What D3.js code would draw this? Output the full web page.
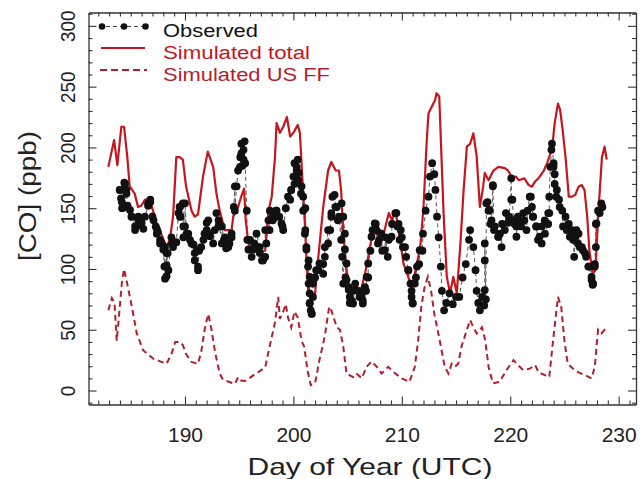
<!DOCTYPE html>
<html>
<head>
<meta charset="utf-8">
<script src="https://cdn.jsdelivr.net/npm/d3@7"></script>
<style>
  html, body { margin: 0; padding: 0; background: #fff; }
  svg { display: block; font-family: "Liberation Sans", Arial, sans-serif; }
</style>
</head>
<body>
<svg id="chart" width="640" height="479"></svg>
<script>
// ---- data: [day of year, CO ppb] ----
const observed = [
  [183.98,165],[184.0,165],[184.1,158],[184.17,155],[184.2,150],[184.4,171],[184.47,170],
  [184.47,151],[184.6,165],[184.6,162],[184.7,152],[184.93,148.5],[185.06,143],[185.1,143],
  [185.4,135],[185.4,132],[185.7,140],[185.7,143],[185.85,136],[186.0,138],[186.16,133],
  [186.3,143],[186.6,152],[186.6,154],[186.8,155],[186.8,157],[187.0,143],[187.1,140],
  [187.3,135],[187.4,129],[187.4,133],[187.5,130.6],[187.7,121],[187.7,124],[187.85,121],
  [188.0,116],[188.1,102],[188.16,118],[188.16,92],[188.3,94],[188.3,113],[188.3,103],
  [188.4,113],[188.47,99],[188.75,126],[188.8,121],[188.9,118],[189.2,122],[189.4,146],
  [189.5,151],[189.54,151],[189.54,143],[189.6,143],[189.8,154],[189.85,135],[189.85,126],
  [190.0,135],[190.0,154],[190.15,129],[190.3,129],[190.46,124],[190.6,121],[190.8,120],
  [190.9,113],[190.9,107],[191.1,115.5],[191.2,99],[191.2,102],[191.3,115],[191.5,118],
  [191.7,124],[191.8,129],[192.0,138],[192.0,132],[192.15,140],[192.3,129],[192.3,127],
  [192.6,121],[192.75,132],[192.9,146],[193.1,135],[193.1,140],[193.4,121],[193.4,135],
  [193.6,124],[193.7,126],[193.8,117],[194.0,118],[194.1,121],[194.3,126],[194.3,129],
  [194.5,151],[194.6,168],[194.6,148],[194.76,168],[194.9,181],[195.07,184],[195.1,192],
  [195.2,203],[195.2,195],[195.3,185],[195.4,198],[195.4,190],[195.5,205],[195.55,187],
  [195.7,148],[195.75,124],[195.85,116],[196.0,124],[196.15,110],[196.3,116],[196.4,121],
  [196.6,129],[196.9,118],[196.9,113],[197.1,107],[197.2,107],[197.4,110],[197.4,132],
  [197.5,121],[197.7,140],[197.8,132],[197.83,148],[198.1,140],[198.1,143],[198.4,148],
  [198.45,148],[198.6,143],[198.7,143],[198.9,137.5],[199.0,135],[199.06,132],[199.3,150],
  [199.5,159.5],[199.7,157],[199.8,165],[199.8,165],[200.0,176],[200.1,187],[200.1,170],
  [200.2,176],[200.3,181],[200.3,184],[200.4,190],[200.45,173],[200.5,179],[200.7,162],
  [200.75,168],[200.9,148],[200.9,159.5],[201.06,129],[201.1,132],[201.1,150],[201.2,118],
  [201.2,116],[201.35,102],[201.4,88],[201.4,107],[201.5,72],[201.5,93.5],[201.5,80],
  [201.5,71.6],[201.6,66],[201.67,63.4],[201.7,63],[201.8,77],[201.8,88],[202.0,93],
  [202.1,99],[202.3,99],[202.4,104.5],[202.75,104],[202.75,96],[202.9,118],[202.9,110],
  [203.2,132],[203.2,121],[203.4,132],[203.5,146],[203.5,143],[203.6,159.5],[203.8,161],
  [203.9,151],[204.0,151],[204.1,140],[204.2,143],[204.4,124],[204.45,154],[204.5,110],
  [204.6,88],[204.6,143],[204.75,129],[204.75,116],[204.8,93],[204.9,104.5],[204.9,91],
  [205.1,85],[205.1,83],[205.2,72],[205.2,77],[205.4,74],[205.5,82],[205.5,71.6],
  [205.7,88],[205.8,82.6],[206.0,82],[206.1,77],[206.3,77],[206.4,74],[206.4,71.6],
  [206.6,82],[206.6,85],[206.7,82],[206.75,93.5],[206.9,93],[206.9,104.5],[207.1,115],
  [207.2,126.5],[207.3,132],[207.5,137.5],[207.6,137],[207.66,132],[207.8,121],[207.9,124],
  [208.1,129],[208.2,115],[208.43,115.5],[208.5,126],[208.7,110],[208.8,124],[209.05,126.5],
  [209.1,137],[209.4,146],[209.5,146],[209.6,135],[209.7,137],[209.8,124],[209.9,132],
  [210.0,126],[210.1,118],[210.3,118],[210.4,110],[210.6,99],[210.6,99],[210.8,88],
  [210.9,82],[210.9,77],[211.0,72],[211.0,71.6],[211.2,88],[211.3,93],[211.4,102],
  [211.6,104],[211.65,115.5],[211.9,115],[211.95,129],[212.2,148],[212.46,159.5],[212.6,176],
  [212.8,187],[213.0,178],[213.1,165],[213.25,143],[213.4,126],[213.6,102],[213.7,82],
  [213.9,66],[214.1,72],[214.4,80],[214.7,71],[215.0,77],[215.3,77],[215.6,93],
  [215.9,104],[216.2,124],[216.3,132],[216.6,118],[216.8,99],[216.9,82],[217.05,72],
  [217.2,66],[217.4,77],[217.6,70],[217.65,82.6],[217.65,107],[217.65,121],[217.75,75],
  [217.8,154],[217.9,155],[218.0,148],[218.1,148.5],[218.2,137],[218.27,140],[218.4,169],
  [218.4,168],[218.5,132],[218.57,135],[218.9,126.5],[218.9,126.5],[219.05,129],[219.2,118],
  [219.25,137],[219.5,132],[219.6,146],[219.8,138],[219.9,143],[220.1,174.6],[220.1,157],
  [220.2,157],[220.3,140],[220.4,137],[220.57,135],[220.57,126.5],[220.7,143],[220.9,138],
  [221.0,135],[221.2,146],[221.3,140],[221.5,132],[221.6,148],[221.8,159.5],[221.9,159.5],
  [222.0,151],[222.1,143],[222.1,143],[222.4,135],[222.4,135],[222.56,124],[222.7,126.5],
  [222.9,121],[222.9,135],[223.18,140],[223.2,129],[223.5,137],[223.5,146],[223.6,146],
  [223.6,159.5],[223.7,184],[223.8,198],[223.85,203],[224.0,187],[224.0,184],[224.1,178],
  [224.1,170],[224.25,159.5],[224.3,165],[224.5,157],[224.56,151],[224.8,148],[224.87,135],
  [225.1,143],[225.2,132],[225.4,137],[225.5,126.5],[225.7,132],[225.8,124],[225.9,110],
  [226.0,126.5],[226.1,132],[226.25,121],[226.3,129],[226.4,118],[226.6,118],[226.7,115.5],
  [226.9,113],[227.0,110],[227.2,102],[227.3,102],[227.5,91],[227.5,93.5],[227.6,87],
  [227.65,88],[227.8,104],[227.8,102],[227.9,137],[227.9,118],[227.95,137.5],[228.1,148],
  [228.25,146],[228.4,154],[228.5,151]
];

const simTotal = [
  [182.93,184],[183.46,206],[183.76,185.5],[184.13,217],[184.38,217],[184.68,192],
  [184.9,168],[185.36,162],[185.67,151],[185.97,152],[186.3,157],[186.75,157],
  [187.05,148],[187.36,137.5],[187.8,129],[188.28,118],[188.6,124],[188.9,143],
  [189.2,192],[189.5,192],[189.8,190],[190.1,168],[190.6,148],[190.9,143],
  [191.2,145],[191.66,176],[192.1,196.5],[192.6,184],[192.9,162],[193.2,148],
  [193.66,132],[194.3,132],[194.45,143],[194.9,151],[195.2,160],[195.45,166],
  [195.6,140],[195.85,121],[196.15,115.5],[196.6,118],[196.9,113],[197.4,115.5],
  [197.7,148],[198.0,159.5],[198.3,192],[198.45,220],[198.76,212],[199.06,217],
  [199.4,225],[199.7,209],[200.0,212],[200.4,218.5],[200.6,212],[200.8,179],
  [201.06,137.5],[201.2,110],[201.36,82.6],[201.7,74],[201.97,77],[202.3,110],
  [202.75,151],[203.2,181],[203.5,188],[203.9,181],[204.2,181],[204.4,165],
  [204.6,130],[204.9,100],[205.2,77],[205.6,85],[206.0,77],[206.3,85],
  [206.6,96],[206.8,104.5],[207.05,118],[207.4,132],[207.7,128],[208.0,132],
  [208.3,128],[208.8,146],[209.1,140],[209.4,148],[209.7,132],[210.15,104.5],
  [210.6,93.5],[210.9,82.6],[211.2,96],[211.7,118],[212.0,151],[212.3,206],
  [212.46,228],[212.76,233.5],[213.07,239],[213.2,244.6],[213.45,242],[213.6,206],
  [213.85,146],[214.15,93.5],[214.45,80],[214.75,93.5],[215.07,80],[215.4,120],
  [215.7,165],[216.0,200.6],[216.3,203],[216.6,211.6],[216.9,193],[217.2,151],
  [217.5,167.7],[217.65,179],[218.0,173],[218.45,181],[218.9,184],[219.5,183],
  [219.8,181],[220.2,174.6],[220.5,176],[220.8,173],[221.3,174.6],[221.7,169],
  [222.0,167.7],[222.3,172],[222.6,174.6],[223.1,181],[223.4,187],[223.7,195],
  [223.85,198],[224.1,220],[224.4,236],[224.6,231],[224.84,214],[225.1,192],
  [225.4,159.5],[225.7,159.5],[226.0,161],[226.3,167.7],[226.6,169],[226.85,165],
  [227.1,143],[227.3,115.5],[227.6,96],[227.86,99],[228.16,151],[228.46,192],
  [228.7,200.6],[228.9,190]
];

const simUSFF = [
  [182.93,66],[183.25,76],[183.5,72],[183.7,41],[183.85,55],[184.17,88],
  [184.38,100],[184.6,91],[185.1,69],[185.55,47],[186.15,33],[187.1,26],
  [187.7,24],[188.3,22],[188.75,30],[189.1,40],[189.5,40],[189.8,37.5],
  [190.1,30],[190.6,23.5],[191.2,22],[191.5,32],[191.85,52],[192.15,63],
  [192.45,50],[192.8,30.5],[193.2,14],[193.5,9],[194.1,7],[194.6,5.5],
  [194.9,11],[195.2,8],[195.6,8],[196.3,12.5],[196.9,16],[197.4,19],
  [197.7,32],[198.0,44],[198.3,56],[198.6,77],[198.75,59],[199.1,66],
  [199.3,71],[199.5,60],[199.8,52],[200.1,65],[200.4,60],[200.75,41],
  [201.0,36],[201.3,16.5],[201.6,4.4],[202.0,6],[202.4,25],[202.9,45],
  [203.3,69],[203.5,66],[204.0,52],[204.3,50],[204.6,36],[204.9,14],
  [205.5,11],[205.8,14],[206.3,10],[206.75,19.5],[207.2,24],[207.7,19.5],
  [208.15,14],[208.75,19.5],[209.4,14],[210.0,10],[210.7,7],[211.2,19.5],
  [211.5,41],[211.8,69],[212.1,85],[212.4,93.5],[212.7,82],[213.0,63],
  [213.5,41],[213.96,19.5],[214.3,14],[214.6,22],[214.9,19.5],[215.2,22],
  [215.5,36],[216.0,50],[216.3,58],[216.6,52],[216.9,47],[217.4,52],
  [217.7,41],[218.0,19.5],[218.4,6],[219.0,7],[219.65,16.7],[220.3,25],
  [220.7,21],[221.2,16.7],[221.8,18],[222.3,21],[222.6,15],[223.2,12.6],
  [223.6,11],[223.95,41],[224.4,77],[224.7,69],[225.0,41],[225.3,22],
  [225.8,18],[226.3,15],[226.9,12.6],[227.5,10],[227.8,19.5],[228.1,50],
  [228.4,47],[228.7,50],[228.9,51]
];

const xTicks = [190, 200, 210, 220, 230];
const yTicks = [0, 50, 100, 150, 200, 250, 300];
const legendItems = ["Observed", "Simulated total", "Simulated US FF"];

// ---- layout ----
const RED = "#c4161c";
const RED_FF = "#b41e2c";
const FONT = '"Liberation Sans", Arial, sans-serif';

const svg = d3.select("#chart");
const plot = { left: 88.5, right: 636, top: 12.5, bottom: 404.5 };

const x = d3.scaleLinear().domain([181.1, 231.6]).range([plot.left, plot.right]);
const y = d3.scaleLinear().domain([-11.5, 311]).range([plot.bottom, plot.top]);

const minorX = d3.range(182, 232).filter(d => d % 10 !== 0);
const minorY = d3.range(-10, 311, 10).filter(d => d % 50 !== 0);

svg.append("defs").append("clipPath").attr("id", "clip")
    .append("rect")
    .attr("x", plot.left).attr("y", plot.top)
    .attr("width", plot.right - plot.left).attr("height", plot.bottom - plot.top);

// ---- axes: box with inward ticks on all four sides ----
function styleAxis(g) {
    g.select(".domain").attr("stroke", "#333").attr("stroke-width", 1.3);
    g.selectAll(".tick line").attr("stroke", "#333").attr("stroke-width", 1.1);
}

const bottomG = svg.append("g")
    .attr("transform", `translate(0,${plot.bottom})`)
    .call(d3.axisBottom(x).tickValues(xTicks).tickSize(-8).tickSizeOuter(0));
bottomG.call(styleAxis);
bottomG.selectAll("text")
    .attr("y", 37.5).attr("dy", null)
    .attr("fill", "#222")
    .attr("textLength", 35).attr("lengthAdjust", "spacingAndGlyphs")
    .style("font", `20px ${FONT}`);

svg.append("g")
    .attr("transform", `translate(0,${plot.bottom})`)
    .call(d3.axisBottom(x).tickValues(minorX).tickSize(-4).tickFormat(""))
    .call(styleAxis)
    .select(".domain").remove();

svg.append("g")
    .attr("transform", `translate(0,${plot.top})`)
    .call(d3.axisTop(x).tickValues(xTicks).tickSize(-8).tickSizeOuter(0).tickFormat(""))
    .call(styleAxis);
svg.append("g")
    .attr("transform", `translate(0,${plot.top})`)
    .call(d3.axisTop(x).tickValues(minorX).tickSize(-4).tickFormat(""))
    .call(styleAxis)
    .select(".domain").remove();

const leftG = svg.append("g")
    .attr("transform", `translate(${plot.left},0)`)
    .call(d3.axisLeft(y).tickValues(yTicks).tickSize(-8).tickSizeOuter(0));
leftG.call(styleAxis);
leftG.selectAll("text")
    .attr("x", null).attr("dy", null)
    .attr("text-anchor", "middle")
    .attr("transform", "translate(-13.5,0) rotate(-90)")
    .attr("fill", "#222")
    .attr("textLength", d => String(d).length * 10.5)
    .attr("lengthAdjust", "spacingAndGlyphs")
    .style("font", `20px ${FONT}`);

svg.append("g")
    .attr("transform", `translate(${plot.left},0)`)
    .call(d3.axisLeft(y).tickValues(minorY).tickSize(-4).tickFormat(""))
    .call(styleAxis)
    .select(".domain").remove();

svg.append("g")
    .attr("transform", `translate(${plot.right},0)`)
    .call(d3.axisRight(y).tickValues(yTicks).tickSize(-8).tickSizeOuter(0).tickFormat(""))
    .call(styleAxis);
svg.append("g")
    .attr("transform", `translate(${plot.right},0)`)
    .call(d3.axisRight(y).tickValues(minorY).tickSize(-4).tickFormat(""))
    .call(styleAxis)
    .select(".domain").remove();

// axis titles
svg.append("text")
    .attr("transform", "translate(36,196) rotate(-90)")
    .attr("text-anchor", "middle")
    .attr("fill", "#222")
    .attr("textLength", 130).attr("lengthAdjust", "spacingAndGlyphs")
    .style("font", `23px ${FONT}`)
    .text("[CO] (ppb)");

svg.append("text")
    .attr("x", 370).attr("y", 475)
    .attr("text-anchor", "middle")
    .attr("fill", "#222")
    .attr("textLength", 245).attr("lengthAdjust", "spacingAndGlyphs")
    .style("font", `24px ${FONT}`)
    .text("Day of Year (UTC)");

// ---- series ----
const line = d3.line().x(d => x(d[0])).y(d => y(d[1]));
const plotG = svg.append("g").attr("clip-path", "url(#clip)");
const obsSorted = d3.sort(observed, d => d[0]);

plotG.append("path")
    .datum(simUSFF)
    .attr("fill", "none")
    .attr("stroke", RED_FF)
    .attr("stroke-width", 2)
    .attr("stroke-dasharray", "6,4")
    .attr("d", line);

plotG.append("path")
    .datum(obsSorted)
    .attr("fill", "none")
    .attr("stroke", "#555")
    .attr("stroke-width", 1)
    .attr("stroke-dasharray", "4,3")
    .attr("d", line);

plotG.append("path")
    .datum(simTotal)
    .attr("fill", "none")
    .attr("stroke", RED)
    .attr("stroke-width", 2.2)
    .attr("stroke-linejoin", "round")
    .attr("d", line);

plotG.selectAll("circle.obs")
    .data(obsSorted)
    .enter()
    .append("circle")
    .attr("class", "obs")
    .attr("cx", d => x(d[0]))
    .attr("cy", d => y(d[1]))
    .attr("r", 3.9)
    .attr("fill", "#111");

// ---- legend ----
const legend = svg.append("g");
const legendY = [26.5, 48, 70];
const legendTextLen = [95, 147, 167];
const legendColor = ["#111", RED, RED_FF];

legend.append("line")
    .attr("x1", 92).attr("x2", 146).attr("y1", legendY[0]).attr("y2", legendY[0])
    .attr("stroke", "#444").attr("stroke-width", 1.2).attr("stroke-dasharray", "4,3");
[102, 124, 145.5].forEach(cx => {
    legend.append("circle").attr("cx", cx).attr("cy", legendY[0]).attr("r", 3.3).attr("fill", "#111");
});
legend.append("line")
    .attr("x1", 101).attr("x2", 145).attr("y1", legendY[1]).attr("y2", legendY[1])
    .attr("stroke", RED).attr("stroke-width", 2.2);
legend.append("line")
    .attr("x1", 100).attr("x2", 147).attr("y1", legendY[2]).attr("y2", legendY[2])
    .attr("stroke", RED_FF).attr("stroke-width", 2.2).attr("stroke-dasharray", "7,4");

legendItems.forEach((name, i) => {
    legend.append("text")
        .attr("x", 163).attr("y", legendY[i] + 10.5)
        .attr("fill", legendColor[i])
        .attr("textLength", legendTextLen[i]).attr("lengthAdjust", "spacingAndGlyphs")
        .style("font", `18px ${FONT}`)
        .text(name);
});
</script>
</body>
</html>
